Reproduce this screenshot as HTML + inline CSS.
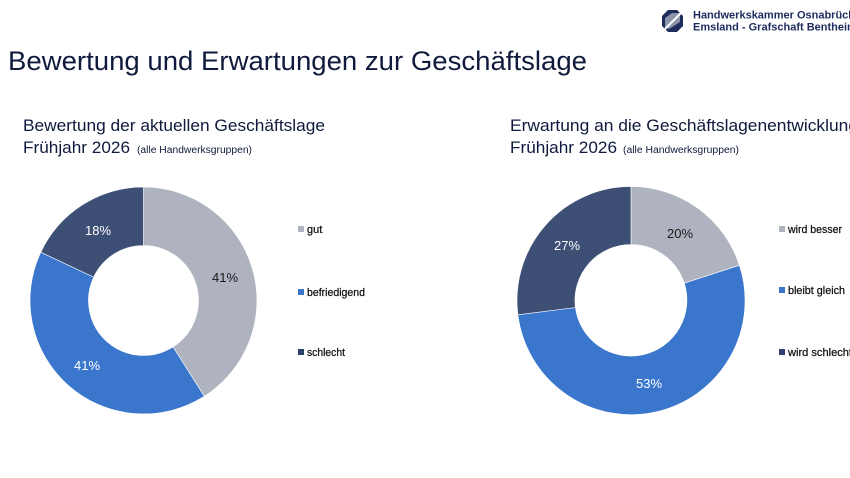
<!DOCTYPE html>
<html>
<head>
<meta charset="utf-8">
<style>
  html,body{margin:0;padding:0;background:#ffffff;}
  body{width:850px;height:478px;overflow:hidden;}
  svg{display:block;font-family:"Liberation Sans",sans-serif;}
</style>
</head>
<body>
<svg width="850" height="478" viewBox="0 0 850 478" xmlns="http://www.w3.org/2000/svg">
  <rect width="850" height="478" fill="#ffffff"/>

  <!-- Logo -->
  <g>
    <polygon points="668,10 677,10 683,16 683,26 677,32 668,32 662,26 662,16" fill="#1e2c5c"/>
    <polygon points="665,18 672,13 680,13 680,22 669,29 665,27" fill="#8a93a8"/>
    <line x1="681" y1="13" x2="665" y2="29" stroke="#ffffff" stroke-width="2"/>
  </g>
  <text x="693" y="18.5" font-size="11" font-weight="bold" fill="#1d2b5e">Handwerkskammer Osnabrück</text>
  <text x="693" y="30.5" font-size="11" font-weight="bold" fill="#1d2b5e">Emsland - Grafschaft Bentheim</text>

  <!-- Main title -->
  <text x="8" y="70" font-size="27" fill="#0f1a3c" textLength="579" lengthAdjust="spacingAndGlyphs">Bewertung und Erwartungen zur Geschäftslage</text>

  <!-- Left subtitle -->
  <text x="23" y="131" font-size="17" fill="#0f1a3c" textLength="302" lengthAdjust="spacingAndGlyphs">Bewertung der aktuellen Geschäftslage</text>
  <text x="23" y="153" font-size="17" fill="#0f1a3c" textLength="107" lengthAdjust="spacingAndGlyphs">Frühjahr 2026</text>
  <text x="137" y="153" font-size="10" fill="#0f1a3c" textLength="115" lengthAdjust="spacingAndGlyphs">(alle Handwerksgruppen)</text>

  <!-- Right subtitle -->
  <text x="510" y="131" font-size="17" fill="#0f1a3c" textLength="348" lengthAdjust="spacingAndGlyphs">Erwartung an die Geschäftslagenentwicklung</text>
  <text x="510" y="153" font-size="17" fill="#0f1a3c" textLength="107" lengthAdjust="spacingAndGlyphs">Frühjahr 2026</text>
  <text x="623" y="153" font-size="10" fill="#0f1a3c" textLength="116" lengthAdjust="spacingAndGlyphs">(alle Handwerksgruppen)</text>

  <!-- Left donut -->
  <g stroke="#ffffff" stroke-width="0.6">
    <path d="M143.5,187 A113.5,113.5 0 0 1 204.3,396.3 L173.0,346.9 A55,55 0 0 0 143.5,245.5 Z" fill="#aeb3bf"/>
    <path d="M204.3,396.3 A113.5,113.5 0 0 1 40.8,252.2 L93.7,277.1 A55,55 0 0 0 173.0,346.9 Z" fill="#3a76cc"/>
    <path d="M40.8,252.2 A113.5,113.5 0 0 1 143.5,187 L143.5,245.5 A55,55 0 0 0 93.7,277.1 Z" fill="#3e4f76"/>
  </g>
  <text x="225" y="282" font-size="13" fill="#1a1a1a" text-anchor="middle">41%</text>
  <text x="98" y="235" font-size="13" fill="#ffffff" text-anchor="middle">18%</text>
  <text x="87" y="370" font-size="13" fill="#ffffff" text-anchor="middle">41%</text>

  <!-- Left legend -->
  <g font-size="11" fill="#111111" stroke="#111111" stroke-width="0.25">
    <text x="307" y="233">gut</text>
    <text x="307" y="296" textLength="58" lengthAdjust="spacingAndGlyphs">befriedigend</text>
    <text x="307" y="356" textLength="38" lengthAdjust="spacingAndGlyphs">schlecht</text>
  </g>
  <rect x="298" y="226" width="6" height="6" fill="#aeb3bf"/>
  <rect x="298" y="289" width="6" height="6" fill="#3a76cc"/>
  <rect x="298" y="349" width="6" height="6" fill="#2e3f69"/>

  <!-- Right donut -->
  <g stroke="#ffffff" stroke-width="0.6">
    <path d="M631,186.5 A114,114 0 0 1 739.4,265.3 L684.3,283.2 A56,56 0 0 0 631,244.5 Z" fill="#aeb3bf"/>
    <path d="M739.4,265.3 A114,114 0 1 1 517.9,314.8 L575.4,307.5 A56,56 0 1 0 684.3,283.2 Z" fill="#3a76cc"/>
    <path d="M517.9,314.8 A114,114 0 0 1 631,186.5 L631,244.5 A56,56 0 0 0 575.4,307.5 Z" fill="#3e4f76"/>
  </g>
  <text x="680" y="238" font-size="13" fill="#1a1a1a" text-anchor="middle">20%</text>
  <text x="567" y="250" font-size="13" fill="#ffffff" text-anchor="middle">27%</text>
  <text x="649" y="388" font-size="13" fill="#ffffff" text-anchor="middle">53%</text>

  <!-- Right legend -->
  <g font-size="11" fill="#111111" stroke="#111111" stroke-width="0.25">
    <text x="788" y="233" textLength="54" lengthAdjust="spacingAndGlyphs">wird besser</text>
    <text x="788" y="294" textLength="57" lengthAdjust="spacingAndGlyphs">bleibt gleich</text>
    <text x="788" y="356" textLength="64" lengthAdjust="spacingAndGlyphs">wird schlecht</text>
  </g>
  <rect x="779" y="226" width="6" height="6" fill="#aeb3bf"/>
  <rect x="779" y="287" width="6" height="6" fill="#3a76cc"/>
  <rect x="779" y="349" width="6" height="6" fill="#2e3f69"/>
</svg>
</body>
</html>
